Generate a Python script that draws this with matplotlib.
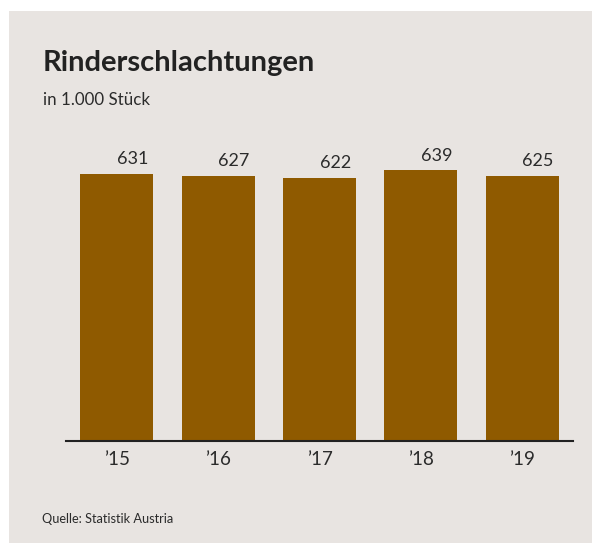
import matplotlib
matplotlib.use('Agg')
import matplotlib.pyplot as plt
from matplotlib.patches import Rectangle

## data
years = ['\u201915', '\u201916', '\u201917', '\u201918', '\u201919']
values = [631, 627, 622, 639, 625]

bg = '#e8e4e1'
bar_color = '#8f5a00'
text_color = '#2b2b2b'
plt.rcParams['font.family'] = ['Lato', 'DejaVu Sans']

W, H = 593, 543
fig = plt.figure(figsize=(W / 100, H / 100), dpi=100)
fig.patch.set_facecolor('white')
## beige panel behind everything
panel = Rectangle((9 / W, 0), (592 - 9) / W, (H - 11) / H,
                  transform=fig.transFigure, facecolor=bg,
                  edgecolor='none', zorder=-5)
fig.add_artist(panel)

ax = fig.add_axes([66 / W, (H - 441) / H, (573 - 66) / W, (441 - 140) / H])
ax.set_zorder(2)
ax.set_facecolor('none')
x = list(range(len(years)))
ax.bar(x, values, width=0.72, color=bar_color, zorder=2)
for i, v in zip(x, values):
    ax.annotate(str(v), (i + 0.155, v), xytext=(0, 5), textcoords='offset points',
                ha='center', va='bottom', fontsize=13, color=text_color)

ax.set_xlim(-0.5, 4.5)
ax.set_ylim(0, 711)
ax.set_yticks([])
ax.set_xticks(x)
ax.set_xticklabels(years, fontsize=13.5, color=text_color)
ax.tick_params(axis='x', length=0, pad=7)
for s in ['top', 'right', 'left']:
    ax.spines[s].set_visible(False)
ax.spines['bottom'].set_color('#222222')
ax.spines['bottom'].set_linewidth(1.5)
ax.spines['bottom'].set_zorder(3)

fig.text(43 / W, 1 - 71 / H, 'Rinderschlachtungen', fontsize=21, fontweight='bold',
         color='#222222', ha='left', va='baseline')
fig.text(43 / W, 1 - 105 / H, 'in 1.000 St\u00fcck', fontsize=12.2, color=text_color,
         ha='left', va='baseline')
fig.text(42 / W, 1 - 523 / H, 'Quelle: Statistik Austria', fontsize=9.2, color=text_color,
         ha='left', va='baseline')

fig.savefig('out.png', dpi=100)
